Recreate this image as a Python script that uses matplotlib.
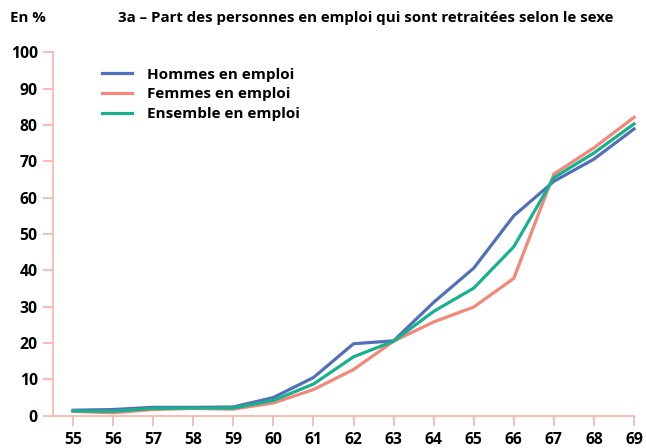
import matplotlib.pyplot as plt

plt.rcParams['font.family'] = ['Open Sans', 'DejaVu Sans']
plt.rcParams['font.weight'] = 'bold'

# ages and shares (%) of employed people who are retired
ages = list(range(55, 70))
hommes = [1.5, 1.7, 2.3, 2.3, 2.4, 5.0, 10.5, 19.8, 20.6, 31.2, 40.6, 55.0, 64.5, 70.6, 78.9]
femmes = [1.2, 0.8, 1.7, 2.0, 1.8, 3.5, 7.2, 12.7, 20.5, 25.8, 29.9, 37.8, 66.5, 73.7, 82.1]
ensemble = [1.3, 1.2, 2.0, 2.1, 2.1, 4.2, 8.7, 16.2, 20.5, 28.7, 35.1, 46.5, 65.5, 72.3, 80.3]
yticks = list(range(0, 101, 10))

blue = '#5270B9'
salmon = '#F4877A'
green = '#17B18D'
axis_col = '#F7B3AB'

fig = plt.figure(figsize=(6.46, 4.48), dpi=100)
ax = fig.add_axes([53 / 646, (448 - 415.7) / 448, (634 - 53) / 646, (415.7 - 52.3) / 448])

ax.plot(ages, hommes, color=blue, lw=2.3, label='Hommes en emploi', clip_on=False)
ax.plot(ages, femmes, color=salmon, lw=2.3, label='Femmes en emploi', clip_on=False)
ax.plot(ages, ensemble, color=green, lw=2.3, label='Ensemble en emploi', clip_on=False)

ax.set_xlim(54.5, 69)
ax.set_ylim(0, 100)
ax.set_xticks(ages)
ax.set_yticks(yticks)
ax.tick_params(axis='both', colors=axis_col, labelcolor='black', labelsize=11.3,
               length=7, width=1.2)
ax.tick_params(axis='x', pad=5)
ax.tick_params(axis='y', pad=4)
for lab in ax.get_xticklabels() + ax.get_yticklabels():
    lab.set_fontweight('bold')

for s in ['top', 'right']:
    ax.spines[s].set_visible(False)
for s in ['left', 'bottom']:
    ax.spines[s].set_color(axis_col)
    ax.spines[s].set_linewidth(1.2)

leg = ax.legend(loc='upper left', bbox_to_anchor=(0.084, 0.958), frameon=False,
                borderpad=0, borderaxespad=0,
                handlelength=2.0, handletextpad=0.95, labelspacing=0.38,
                prop={'weight': 'bold', 'size': 11})

fig.text(10 / 646, 1 - 18 / 448, 'En %', fontsize=10.8, fontweight='bold', va='center')
fig.text(118 / 646, 1 - 18 / 448,
         '3a – Part des personnes en emploi qui sont retraitées selon le sexe',
         fontsize=10.8, fontweight='bold', va='center')

fig.savefig('out.png', dpi=100)
